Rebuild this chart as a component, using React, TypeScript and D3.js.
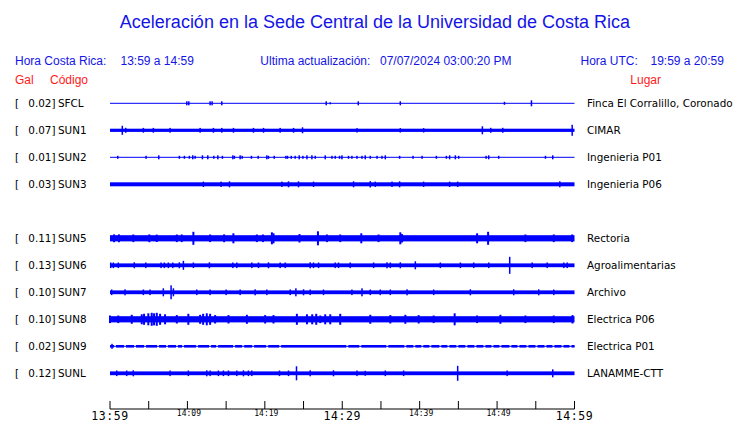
import React from "react";
import * as d3 from "d3";

const TITLE = "Aceleración en la Sede Central de la Universidad de Costa Rica";
const START = new Date(2024, 6, 7, 13, 59, 0);
const DURATION_MIN = 60;
const TICK_STEP_MIN = 5;
const BIG_LABEL_MIN = [0, 30, 60];
const SMALL_LABEL_MIN = [10, 20, 40, 50];

const ROW_SLOTS = [0, 1, 2, 3, 5, 6, 7, 8, 9, 10];
const CODES = ["SFCL", "SUN1", "SUN2", "SUN3", "SUN5", "SUN6", "SUN7", "SUN8", "SUN9", "SUNL"];
const GALS = ["0.02", "0.07", "0.01", "0.03", "0.11", "0.13", "0.10", "0.10", "0.02", "0.12"];
const PLACES = [
  "Finca El Corralillo, Coronado",
  "CIMAR",
  "Ingenieria P01",
  "Ingenieria P06",
  "Rectoria",
  "Agroalimentarias",
  "Archivo",
  "Electrica P06",
  "Electrica P01",
  "LANAMME-CTT",
];
// background (half) amplitude of each trace
const BASE_AMP = [0.5, 1.6, 0.5, 2.0, 3.1, 1.9, 1.9, 3.1, 1.3, 1.9];

// [minute after 13:59, half amplitude]
const SFCL_SPIKES: [number, number][] = [
  [9.92, 2], [10.18, 2], [12.93, 2], [13.19, 2], [14.44, 2], [27.93, 2], [28.45, 1],
  [32.07, 2], [37.5, 2], [50.95, 1.5], [54.44, 3],
];
const SUN1_SPIKES: [number, number][] = [
  [1.59, 4.5], [2.03, 2.5], [4.31, 2.4], [5.6, 2.4], [7.76, 2.4], [11.64, 2.4], [13.36, 2.4],
  [14.44, 2.4], [15.95, 2.4], [18.53, 2.4], [19.83, 2.4], [21.98, 2.4], [23.71, 2.4],
  [24.87, 3], [31.9, 2.2], [37.5, 2.2], [40.51, 2.2], [48.1, 4], [49.18, 2.5], [50.73, 2.5], [59.7, 5.5],
];
const SUN2_SPIKES: [number, number][] = [
  [1.0, 1.5], [4.66, 1.5], [6.3, 2], [8.96, 1.5], [9.61, 1.5], [10.25, 1.5], [10.69, 2],
  [10.99, 1.5], [11.94, 2], [12.63, 2], [13.41, 1.5], [13.93, 2], [14.52, 1.5], [15.87, 2],
  [16.07, 1.5], [16.81, 2], [17.07, 1.5], [18.27, 1.5], [19.14, 1.5], [20.26, 2], [20.47, 1.5],
  [21.21, 1.5], [22.72, 1.5], [22.93, 1.5], [23.41, 1.5], [23.92, 1.5], [24.44, 2],
  [24.92, 1.5], [25.44, 2], [26.08, 2], [26.51, 1.5], [27.8, 2], [28.67, 1.5], [29.09, 1.5],
  [29.65, 1.5], [29.96, 2], [30.81, 1.5], [31.25, 1.5], [31.9, 1.5], [32.55, 1.5],
  [32.97, 2], [33.62, 1.5], [34.49, 1.5], [35.13, 1.5], [35.56, 2], [37.41, 1.5],
  [39.14, 1.5], [40.31, 1.5], [42.16, 1.5], [43.45, 1.5], [43.87, 2], [44.61, 2],
  [45.04, 1.5], [48.58, 1.5], [48.92, 2], [50.21, 1.5], [56.25, 1.5], [57.19, 2],
];
const SUN3_SPIKES: [number, number][] = [
  [12.06, 2.7], [14.35, 2.7], [15.43, 3], [22.2, 2.7], [23.06, 3], [24.35, 3], [26.29, 2.7],
  [31.46, 3], [33.62, 3.2], [34.27, 2.7], [36.43, 2.7], [37.41, 3], [40.51, 2.7],
  [43.87, 2.7], [44.91, 2.7], [58.1, 3],
];
const SUN5_SPIKES: [number, number][] = [
  [0.52, 3.9], [1.16, 3.9], [3.01, 3.8], [5.08, 3.9], [6.04, 3.7], [8.63, 3.8], [9.27, 3.8],
  [10.77, 6.5], [12.93, 3.8], [14.74, 3.9], [15.94, 5], [18.97, 3.8], [19.75, 3.8],
  [20.91, 6], [21.12, 5], [24.48, 4.2], [26.86, 7], [28.02, 3.8], [29.74, 3.8], [32.46, 5],
  [34.69, 3.8], [37.5, 6], [37.72, 4.2], [47.42, 5], [48.84, 6.5], [53.66, 3.8], [57.32, 3.8],
  [59.7, 3.8],
];
const SUN6_SPIKES: [number, number][] = [
  [0.09, 2.8], [0.43, 2.8], [1.07, 2.8], [3.14, 3], [4.62, 2.8], [6.59, 2.8], [7.02, 2.8],
  [7.54, 2.8], [8.11, 2.8], [8.96, 3], [9.48, 4.5], [10.77, 2.8], [12.84, 3], [15.87, 2.8],
  [16.38, 2.8], [18.32, 2.8], [19.18, 2.8], [20.47, 3], [21.98, 2.8], [22.63, 2.8], [25.86, 3],
  [26.29, 2.8], [26.94, 2.8], [29.09, 2.8], [29.52, 2.8], [31.03, 2.8], [34.05, 2.8],
  [35.78, 3], [36.21, 2.8], [37.5, 3], [39.44, 4], [42.67, 2.8], [45.26, 2.8], [46.98, 2.8],
  [48.92, 2.8], [51.63, 8.5], [54.53, 2.8], [56.47, 2.8], [58.62, 2.8], [59.06, 2.8],
];
const SUN7_SPIKES: [number, number][] = [
  [0.22, 2.8], [1.94, 3], [4.31, 2.8], [5.17, 2.8], [6.89, 4], [7.89, 7], [8.19, 4],
  [11.21, 2.8], [12.93, 2.8], [15.0, 2.8], [16.81, 2.8], [18.75, 3], [20.26, 2.8],
  [23.28, 2.8], [24.01, 4], [25.0, 3], [25.86, 2.8], [27.58, 2.8], [31.25, 2.8], [32.55, 4],
  [33.62, 2.8], [34.91, 2.8], [36.21, 2.8], [38.37, 3], [41.81, 2.8], [46.55, 3],
  [52.15, 3], [55.38, 3], [57.32, 2.8],
];
const SUN8_SPIKES: [number, number][] = [
  [0.0, 3.8], [1.07, 3.8], [2.81, 4.5], [4.1, 5], [4.4, 5.5], [4.95, 6], [5.39, 6.5],
  [5.69, 6], [6.04, 6.5], [6.47, 5.5], [7.11, 5], [8.63, 4.2], [10.12, 5.5], [11.64, 4.5],
  [12.03, 5.5], [12.5, 6], [12.93, 5.5], [13.58, 4.2], [15.3, 4.2], [17.68, 4.5], [20.04, 4.2],
  [21.12, 4.2], [24.14, 5.5], [25.44, 5], [26.12, 5], [26.64, 5.5], [27.16, 3.8], [27.8, 5],
  [28.45, 5], [29.74, 5.5], [33.62, 4.5], [36.21, 4.2], [38.15, 4.5], [39.87, 4.2], [41.81, 3.8],
  [44.52, 6], [47.42, 3.8], [50.43, 4.5], [53.66, 3.8], [57.32, 3.8], [59.74, 4.2],
];
const SUN9_SPIKES: [number, number][] = [[0.26, 2.5]];
const SUN9_GAPS = [
  0.65, 1.94, 3.23, 4.53, 6.21, 7.37, 8.66, 9.44, 11.25, 12.93, 13.84, 16.03, 17.2, 18.49,
  20.3, 21.98, 30.65, 32.33, 35.82, 38.15, 39.31, 40.34, 41.38, 42.67, 43.71, 44.87, 46.03,
  47.2, 48.36, 49.4, 50.43, 51.72, 52.76, 53.92, 55.09, 56.25, 57.28, 58.45, 59.48,
];
const SUNL_SPIKES: [number, number][] = [
  [0.87, 2.8], [2.16, 2.8], [3.01, 3], [7.76, 2.8], [10.12, 2.8], [12.5, 3], [12.93, 2.8],
  [14.0, 2.8], [14.65, 2.8], [15.3, 2.8], [16.38, 2.8], [17.24, 3], [17.88, 2.8], [18.32, 2.8],
  [21.89, 2.8], [23.06, 2.8], [24.09, 7], [25.86, 3], [28.87, 3], [31.9, 2.8], [32.97, 2.5],
  [35.56, 2.8], [37.93, 2.8], [44.91, 7.5], [51.3, 2.8], [57.19, 4],
];
const SPIKES = [
  SFCL_SPIKES, SUN1_SPIKES, SUN2_SPIKES, SUN3_SPIKES, SUN5_SPIKES,
  SUN6_SPIKES, SUN7_SPIKES, SUN8_SPIKES, SUN9_SPIKES, SUNL_SPIKES,
];
const GAPS: number[][] = [[], [], [], [], [], [], [], [], SUN9_GAPS, []];

const BLUE = "#1414e6";
const TRACE = "#0000ff";
const RED = "#ff1a1a";

export default function App() {
  const x = d3.scaleLinear().domain([0, DURATION_MIN]).range([110, 574.5]);
  const rowY = d3.scaleLinear().domain([0, 10]).range([103.3, 373.3]);
  const amp = d3.scaleLinear().domain([0, 10]).range([0, 10]);
  const fmt = d3.timeFormat("%H:%M");
  const tickMins = d3.range(0, DURATION_MIN + 1, TICK_STEP_MIN);
  const label = (m: number) => fmt(new Date(START.getTime() + m * 60000));
  const sans = "'Liberation Sans', Arial, sans-serif";
  const dv = "'DejaVu Sans', sans-serif";
  const mono = "'DejaVu Sans Mono', monospace";
  const axisY = 409;

  return (
    <svg width={740} height={423} style={{ position: "absolute", left: 0, top: 0, background: "#fff" }}>
      <rect width={740} height={423} fill="#fff" />
      <text x={375} y={28} textAnchor="middle" fontFamily={sans} fontSize={18} fill={BLUE}>{TITLE}</text>

      <g fontFamily={sans} fontSize={12} fill={BLUE}>
        <text x={15} y={64.5}>Hora Costa Rica:</text>
        <text x={120.5} y={64.5}>{`${label(0)} a ${label(60)}`}</text>
        <text x={260.3} y={64.5}>Ultima actualización:</text>
        <text x={380} y={64.5}>07/07/2024 03:00:20 PM</text>
        <text x={580.5} y={64.5}>Hora UTC:</text>
        <text x={650.5} y={64.5}>19:59 a 20:59</text>
      </g>
      <g fontFamily={sans} fontSize={12} fill={RED}>
        <text x={15} y={84.3}>Gal</text>
        <text x={50} y={84.3}>Código</text>
        <text x={630.3} y={84.3}>Lugar</text>
      </g>

      {CODES.map((code, i) => {
        const cy = rowY(ROW_SLOTS[i]);
        const base = amp(BASE_AMP[i]);
        const sw = BASE_AMP[i] > 2.5 ? 2 : 1.5;
        return (
          <g key={code}>
            <g fontFamily={dv} fontSize={10.4} fill="#000">
              <text x={15} y={cy + 3.6}>[</text>
              <text x={55.5} y={cy + 3.6} textAnchor="end">{`${GALS[i]}]`}</text>
              <text x={58} y={cy + 3.6}>{code}</text>
              <text x={587} y={cy + 3.6}>{PLACES[i]}</text>
            </g>
            <rect x={x(0)} y={cy - base} width={x(DURATION_MIN) - x(0)} height={2 * base} fill={TRACE} />
            {GAPS[i].map((m, j) => (
              <rect key={"g" + j} x={x(m) - 1} y={cy - base - 0.5} width={2} height={2 * base + 1} fill="#fff" />
            ))}
            {GAPS[i].length > 0 && (
              <rect x={x(0)} y={cy - 0.5} width={x(DURATION_MIN) - x(0)} height={1} fill={TRACE} />
            )}
            {SPIKES[i].map(([m, a], j) => (
              <rect key={"s" + j} x={x(m) - sw / 2} y={cy - amp(a)} width={sw} height={2 * amp(a)} fill={TRACE} />
            ))}
          </g>
        );
      })}

      <g>
        <line x1={x(0)} x2={x(DURATION_MIN)} y1={axisY} y2={axisY} stroke="#000" strokeWidth={1} />
        {tickMins.map((m) => (
          <line key={m} x1={x(m)} x2={x(m)} y1={axisY - 8} y2={axisY} stroke="#000" strokeWidth={1} />
        ))}
        {BIG_LABEL_MIN.map((m) => (
          <text key={"b" + m} x={x(m)} y={419.5} textAnchor="middle" fontFamily={mono} fontSize={11.5} letterSpacing={0.6} fill="#000">
            {label(m)}
          </text>
        ))}
        {SMALL_LABEL_MIN.map((m) => (
          <text key={"s" + m} x={x(m) + 1.5} y={415.5} textAnchor="middle" fontFamily={mono} fontSize={8} fill="#000">
            {label(m)}
          </text>
        ))}
      </g>
    </svg>
  );
}
